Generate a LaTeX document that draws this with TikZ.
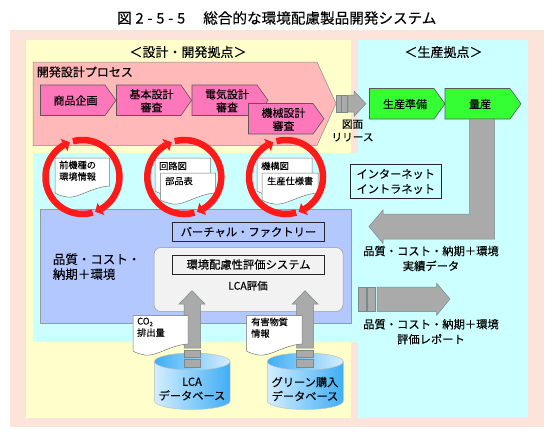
\documentclass[tikz,border=0pt]{standalone}
\usepackage{fontspec}
\setmainfont{Noto Sans CJK JP}[FakeBold=0.2]
\definecolor{salmonbg}{HTML}{FDE4DA}
\definecolor{yellowbg}{HTML}{FFFFCC}
\definecolor{cyanbg}{HTML}{CCFFFF}
\definecolor{pinkbg}{HTML}{FFB9B9}
\definecolor{magentabox}{HTML}{FF77BB}
\definecolor{bluebg}{HTML}{B3C8FF}
\definecolor{grayarrow}{HTML}{AAAAAA}
\definecolor{greenbox}{HTML}{33FF33}
\definecolor{redring}{HTML}{FF1A1A}
\definecolor{cyllight}{HTML}{D4EEFF}
\definecolor{cyldark}{HTML}{3FAEF5}
\definecolor{edgegray}{HTML}{7A8A8A}
\tikzset{
  base/.style={inner sep=0pt,font=\fontsize{11}{13}\selectfont,align=center,text=black},
  wide/.style={base,font=\fontsize{11.3}{15}\selectfont},
  small/.style={inner sep=0pt,font=\fontsize{9.2}{11.5}\selectfont,align=left,anchor=north west},
  stage/.style={draw=black!65,line width=.6pt},
  grayshape/.style={fill=grayarrow,draw=edgegray,line width=.5pt},
  doc/.style={fill=white,draw=black!55,line width=.5pt},
  ring/.style={draw=redring,line width=6.5pt},
  ringhead/.style={fill=redring,draw=none},
  framebox/.style={draw=black!85,line width=.9pt,inner sep=0pt,font=\fontsize{11.3}{14}\selectfont,align=center},
  cylside/.style={left color=cyllight,right color=cyldark,draw=black!25,line width=.5pt},
  cylcap/.style={left color=cyldark,right color=cyllight,draw=black!25,line width=.5pt},
}
% stage arrow: x1 y1 bodyend tip y2 colour
\newcommand{\stagearrow}[6]{\fill[#6] (#1,#2) -- (#3,#2) -- (#4,{(#2+#5)/2}) -- (#3,#5) -- (#1,#5) -- cycle;
 \draw[stage] (#1,#2) -- (#3,#2) -- (#4,{(#2+#5)/2}) -- (#3,#5) -- (#1,#5) -- cycle;}
% document: x1 y1 x2 y2
\newcommand{\docsheet}[4]{\draw[doc] (#1,#2) -- (#3,#2) -- (#3,#4-11) .. controls ({#3-18},#4-10) and ({#3-32},#4+2) .. ({#1+12},#4) .. controls ({#1+7},#4-1) and ({#1+3},#4-2) .. (#1,#4-4) -- cycle;}
% point on a ring: centre x, angle, radius (centre y is 177)
\newcommand{\onring}[3]{({#1+(#3)*cos(#2)},{177-(#3)*sin(#2)})}
% ring: centre x
\newcommand{\ringpair}[1]{
 \draw[ring] \onring{#1}{105}{37} arc[start angle=105,end angle=-60,radius=37pt];
 \fill[ringhead] \onring{#1}{-60}{30} -- \onring{#1}{-60}{44} -- \onring{#1}{-70}{37} -- cycle;
 \draw[ring] \onring{#1}{286}{37} arc[start angle=286,end angle=120,radius=37pt];
 \fill[ringhead] \onring{#1}{120}{30} -- \onring{#1}{120}{44} -- \onring{#1}{110}{37} -- cycle;
}
% up arrow: head left, shaft left, centre, shaft right, head right
\newcommand{\uparrowshape}[5]{
 \draw[grayshape] (#2,348) -- (#2,304) -- (#1,304) -- (#3,290.7) -- (#5,304) -- (#4,304) -- (#4,348) -- cycle;
}
\newcommand{\upsegs}[2]{
 \fill[grayshape] (#1,350) rectangle (#2,357);
 \fill[grayshape] (#1,359) rectangle (#2,367);
}
% cylinder: x1 x2
\newcommand{\dbcyl}[2]{
 \draw[cylside] (#1,361.5) -- (#1,401) arc[start angle=180,end angle=360,x radius={(#2-#1)/2*1pt},y radius=8.5pt] -- (#2,361.5) -- cycle;
 \draw[cylcap] ({(#1+#2)/2},361.5) ellipse[x radius={(#2-#1)/2*1pt},y radius=8.5pt];
}
\begin{document}
\begin{tikzpicture}[x=1pt,y=-1pt]
\useasboundingbox (0,0) rectangle (554,437);
\fill[white] (0,0) rectangle (554,437);
\node[inner sep=0pt,anchor=west,font=\fontsize{14.6}{16}\selectfont] (title) at (117,18) {図\hspace{3.8pt}2\hspace{3.8pt}-\hspace{3.8pt}5\hspace{3.8pt}-\hspace{3.8pt}5\hspace{18pt}総合的な環境配慮製品開発システム};

\fill[salmonbg] (10,30) rectangle (544,427);
\fill[yellowbg] (26,40) rectangle (351,418);
\fill[cyanbg] (358,40) rectangle (528,418);
\fill[cyanbg] (33,153) rectangle (358,342);

\node[base,font=\fontsize{13}{15}\selectfont] (devhead) at (188,52) {＜設計・開発拠点＞};
\node[base,font=\fontsize{13}{15}\selectfont] (prodhead) at (443.5,52) {＜生産拠点＞};

% process arrow
\fill[pinkbg,draw=black!45,line width=.5pt] (33,62) -- (317,62) -- (336,103.5) -- (317,145.5) -- (33,145.5) -- cycle;
\node[base,anchor=west,font=\fontsize{12}{14}\selectfont] (proc) at (36.7,72) {開発設計プロセス};

\stagearrow{40.5}{85}{105}{116}{115.5}{magentabox}
\stagearrow{116.5}{85}{181}{191.5}{115.5}{magentabox}
\stagearrow{192}{85}{257}{268}{115.5}{magentabox}
\stagearrow{248.5}{103.5}{313}{324}{134}{magentabox}
\node[base] (s1) at (75.5,100.5) {商品企画};
\node[base] (s2) at (151.5,100.8) {基本設計\\審査};
\node[base] (s3) at (227,100.8) {電気設計\\審査};
\node[base] (s4) at (283.5,119.3) {機械設計\\審査};

% release arrow
\fill[grayshape] (336,95) rectangle (341,112);
\fill[grayshape] (341.5,95) rectangle (347,112);
\draw[grayshape] (348.5,95) -- (354,95) -- (354,91) -- (366,103.7) -- (354,116.5) -- (354,112) -- (348.5,112) -- cycle;
\node[base,font=\fontsize{10.6}{13}\selectfont] (rel) at (352.5,130.5) {図面\\リリース};

% green
\stagearrow{369.5}{88.5}{434}{445}{119}{greenbox}
\stagearrow{445}{88.5}{510}{521}{119}{greenbox}
\node[base] (g1) at (405,104) {生産準備};
\node[base] (g2) at (480,104) {量産};

% internet
\node[framebox,font=\fontsize{11.2}{15}\selectfont,minimum width=91.5pt,minimum height=34pt,fill=cyanbg] (net) at (395.75,181.5) {インターネット\\イントラネット};

% big return arrow
\draw[grayshape] (494.5,119) -- (494.5,239) -- (383,239) -- (383,243.5) -- (369,226.5) -- (383,210) -- (383,214) -- (469.5,214) -- (469.5,119) -- cycle;
\node[wide] (t1) at (431,258.5) {品質・コスト・納期＋環境\\実績データ};

% report arrow
\fill[grayshape] (358,287) rectangle (366,311.5);
\fill[grayshape] (367.5,287) rectangle (375.5,311.5);
\draw[grayshape] (377,287) -- (436.5,287) -- (436.5,283) -- (450,299) -- (436.5,315.5) -- (436.5,311.5) -- (377,311.5) -- cycle;
\node[wide] (t2) at (431,331.7) {品質・コスト・納期＋環境\\評価レポート};

% blue panel
\fill[bluebg,draw=black!40,line width=.5pt] (40.5,209.5) rectangle (351,323.5);
\node[base,anchor=west,align=left,font=\fontsize{12.5}{15}\selectfont] (q) at (52.7,266.7) {品質・コスト・\\納期＋環境};
\node[framebox,minimum width=152pt,minimum height=19.5pt,fill=bluebg] (vf) at (248.5,232) {バーチャル・ファクトリー};
\fill[black!5,draw=black!40,line width=.5pt,rounded corners=7pt] (154,247.5) rectangle (343,311.5);
\node[framebox,minimum width=152pt,minimum height=19pt,fill=black!5] (env) at (248.5,264.5) {環境配慮性評価システム};
\node[base,font=\fontsize{10.5}{13}\selectfont] (lca) at (248,285.7) {LCA評価};

% documents in the rings
\docsheet{55}{158}{109.5}{197}
\node[small] (d1) at (59,160.5) {前機種の\\環境情報};
\docsheet{155}{158}{210.5}{195}
\node[small,anchor=west] (d2a) at (159,166) {回路図};
\docsheet{160.5}{173}{215.5}{204}
\node[small,anchor=west] (d2b) at (165,181) {部品表};
\docsheet{257}{158}{312}{195}
\node[small,anchor=west] (d3a) at (261,166) {機構図};
\docsheet{262}{173}{318}{204}
\node[small,anchor=west] (d3b) at (267,181) {生産仕様書};

% rings
\ringpair{82.5}
\ringpair{184.3}
\ringpair{286}

% databases
\dbcyl{154.5}{230}
\dbcyl{267.3}{343.3}
\upsegs{184}{200.7}
\upsegs{296.7}{313.7}
\uparrowshape{179}{184}{192}{200.7}{205}
\uparrowshape{292.3}{296.7}{305}{313.7}{318}
\docsheet{133}{315.5}{188}{355}
\node[small] (c1) at (137,317.5) {CO\raisebox{-.3ex}{\fontsize{6}{6}\selectfont 2}\\排出量};
\docsheet{246.5}{315.5}{302}{355}
\node[small] (c2) at (251,317.5) {有害物質\\情報};
\node[base,font=\fontsize{11.2}{14}\selectfont] (db1) at (192,389) {LCA\\データベース};
\node[base,font=\fontsize{11.2}{14}\selectfont] (db2) at (305,389) {グリーン購入\\データベース};
\end{tikzpicture}
\end{document}
